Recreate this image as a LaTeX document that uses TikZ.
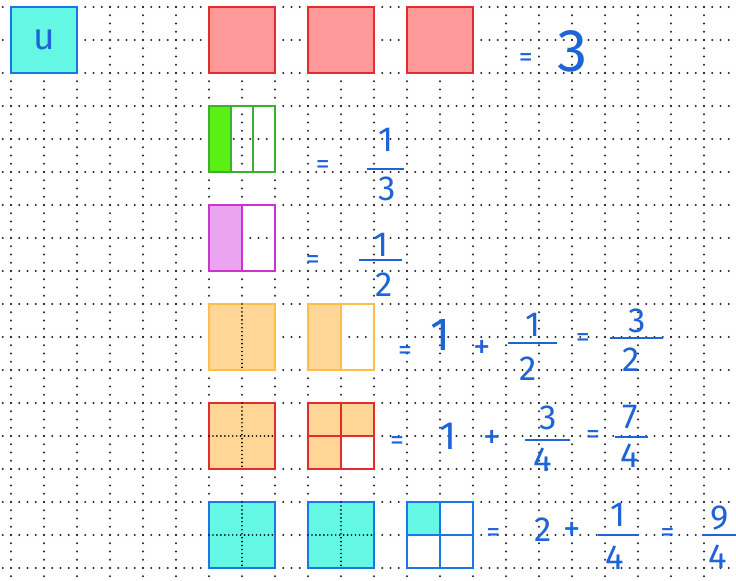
\documentclass[tikz,border=0pt]{standalone}
\usepackage{fontspec}
\setmainfont{Fira Sans}
\usetikzlibrary{calc}
\definecolor{inchiostro}{RGB}{30,100,215}
\definecolor{ciano}{RGB}{100,248,228}
\definecolor{blu}{RGB}{25,120,225}
\definecolor{rosa}{RGB}{255,153,153}
\definecolor{rosso}{RGB}{225,45,45}
\definecolor{verdino}{RGB}{90,240,20}
\definecolor{verde}{RGB}{60,175,50}
\definecolor{lilla}{RGB}{235,165,240}
\definecolor{viola}{RGB}{205,50,205}
\definecolor{pesca}{RGB}{255,214,150}
\definecolor{arancio}{RGB}{255,190,70}
\tikzset{
  quad/.style    = {rectangle, minimum size=2cm, inner sep=0, outer sep=0, line width=1.5pt},
  riempi/.style  = {path picture={\fill[#1] (path picture bounding box.north west) rectangle (path picture bounding box.south);}},
  terzo/.style   = {path picture={\fill[#1] (path picture bounding box.north west) rectangle ($(path picture bounding box.south west)!1/3!(path picture bounding box.south east)$);}},
  trequarti/.style = {path picture={\fill[#1] (path picture bounding box.north west) rectangle (path picture bounding box.south);
                                   \fill[#1] (path picture bounding box.north) rectangle (path picture bounding box.east);}},
  quarto/.style  = {path picture={\fill[#1] (path picture bounding box.north west) rectangle (path picture bounding box.center);}},
  num/.style     = {text=inchiostro, font=\fontsize{30}{30}\selectfont, inner sep=0},
  intero/.style  = {text=inchiostro, font=\fontsize{40}{40}\selectfont, inner sep=0},
  segno/.style   = {text=inchiostro, font=\fontsize{24}{24}\selectfont, inner sep=0},
  piu/.style     = {text=inchiostro, font=\fontsize{30}{30}\selectfont, inner sep=0},
  barra/.style   = {fill=inchiostro, minimum height=1.5pt, inner sep=0, outer sep=0},
  punti/.style   = {line width=1.8pt, line cap=round, dash pattern=on 0pt off 0.25cm, black!85},
  meta/.style    = {line width=1.6pt, line cap=round, dash pattern=on 0pt off 0.12cm, black}
}
\begin{document}
\begin{tikzpicture}
  \useasboundingbox (-0.333,0.212) rectangle (21.97,-17.364);
  \begin{scope}
    \clip (-0.333,0.212) rectangle (21.97,-17.364);
    \foreach \x in {0,...,21} \draw[punti] (\x,0.5) -- (\x,-17.5);
    \foreach \y in {0,...,17} \draw[punti] (-0.5,-\y) -- (22,-\y);
  \end{scope}

  % unita' e tre interi
  \node[quad, draw=blu, fill=ciano, text=inchiostro, font=\fontsize{32}{32}\selectfont] (u) at (1,-1) {u};
  \node[quad, draw=rosso, fill=rosa] (r1) at (7,-1) {};
  \node[quad, draw=rosso, fill=rosa] (r2) at (10,-1) {};
  \node[quad, draw=rosso, fill=rosa] (r3) at (13,-1) {};
  \node[segno] (e0) at (15.6,-1.6) {=};
  \node[intero, font=\fontsize{52}{52}\selectfont] (tre) at (17.03,-1.36) {3};

  % un terzo
  \node[quad, draw=verde, terzo=verdino] (g) at (7,-4) {};
  \draw[verde, line width=1.5pt] ($(g.north west)!1/3!(g.north east)$) -- ($(g.south west)!1/3!(g.south east)$);
  \draw[verde, line width=1.5pt] ($(g.north west)!2/3!(g.north east)$) -- ($(g.south west)!2/3!(g.south east)$);
  \node[segno] (e1) at (9.45,-4.85) {=};
  \node[barra, minimum width=1.12cm] (b1) at (11.36,-4.91) {};
  \node[num] (n1) at (11.36,-4.03) {1};
  \node[num] (d1) at (11.4,-5.52) {3};

  % un mezzo
  \node[quad, draw=viola, riempi=lilla] (p) at (7,-7) {};
  \draw[viola, line width=1.5pt] (p.north) -- (p.south);
  \node[segno] (e2) at (9.15,-7.73) {=};
  \node[barra, minimum width=1.3cm] (b2) at (11.2,-7.67) {};
  \node[num] (n2) at (11.2,-7.21) {1};
  \node[num] (d2) at (11.3,-8.42) {2};

  % tre mezzi
  \node[quad, draw=arancio, fill=pesca] (a1) at (7,-10) {};
  \draw[meta] (a1.north) -- (a1.south);
  \node[quad, draw=arancio, riempi=pesca] (a2) at (10,-10) {};
  \draw[arancio, line width=1.5pt] (a2.north) -- (a2.south);
  \node[segno] (e3) at (11.94,-10.48) {=};
  \node[intero] (i3) at (13.03,-9.94) {1};
  \node[piu] (p3) at (14.27,-10.39) {+};
  \node[barra, minimum width=1.48cm] (b3) at (15.8,-10.18) {};
  \node[num] (n3) at (15.82,-9.64) {1};
  \node[num] (d3) at (15.67,-10.95) {2};
  \node[segno] (f3) at (17.33,-10.09) {=};
  \node[barra, minimum width=1.6cm] (c3) at (18.95,-10.03) {};
  \node[num] (m3) at (18.97,-9.52) {3};
  \node[num] (q3) at (18.8,-10.7) {2};

  % sette quarti
  \node[quad, draw=rosso, fill=pesca] (s1) at (7,-13) {};
  \draw[meta] (s1.north) -- (s1.south); \draw[meta] (s1.west) -- (s1.east);
  \node[quad, draw=rosso, trequarti=pesca] (s2) at (10,-13) {};
  \draw[rosso, line width=1.5pt] (s2.north) -- (s2.south); \draw[rosso, line width=1.5pt] (s2.west) -- (s2.east);
  \node[segno] (e4) at (11.7,-13.21) {=};
  \node[intero, font=\fontsize{34}{34}\selectfont] (i4) at (13.24,-13.0) {1};
  \node[piu] (p4) at (14.58,-13.12) {+};
  \node[barra, minimum width=1.36cm] (b4) at (16.26,-13.12) {};
  \node[num] (n4) at (16.27,-12.45) {3};
  \node[num] (d4) at (16.1,-13.73) {4};
  \node[segno] (f4) at (17.64,-13.03) {=};
  \node[barra, minimum width=1.0cm] (c4) at (18.8,-13.03) {};
  \node[num] (m4) at (18.76,-12.42) {7};
  \node[num] (q4) at (18.76,-13.6) {4};

  % nove quarti
  \node[quad, draw=blu, fill=ciano] (c1) at (7,-16) {};
  \draw[meta] (c1.north) -- (c1.south); \draw[meta] (c1.west) -- (c1.east);
  \node[quad, draw=blu, fill=ciano] (c2) at (10,-16) {};
  \draw[meta] (c2.north) -- (c2.south); \draw[meta] (c2.west) -- (c2.east);
  \node[quad, draw=blu, quarto=ciano] (c3q) at (13,-16) {};
  \draw[blu, line width=1.5pt] (c3q.north) -- (c3q.south); \draw[blu, line width=1.5pt] (c3q.west) -- (c3q.east);
  \node[segno] (e5) at (14.62,-16.0) {=};
  \node[num] (i5) at (16.12,-15.85) {2};
  \node[piu] (p5) at (17.0,-15.9) {+};
  \node[barra, minimum width=1.24cm] (b5) at (18.4,-16.0) {};
  \node[num] (n5) at (18.4,-15.4) {1};
  \node[num] (d5) at (18.3,-16.7) {4};
  \node[segno] (f5) at (19.9,-16.0) {=};
  \node[barra, minimum width=1.5cm] (c5) at (21.7,-16.0) {};
  \node[num] (m5) at (21.48,-15.5) {9};
  \node[num] (q5) at (21.42,-16.66) {4};
\end{tikzpicture}
\end{document}
